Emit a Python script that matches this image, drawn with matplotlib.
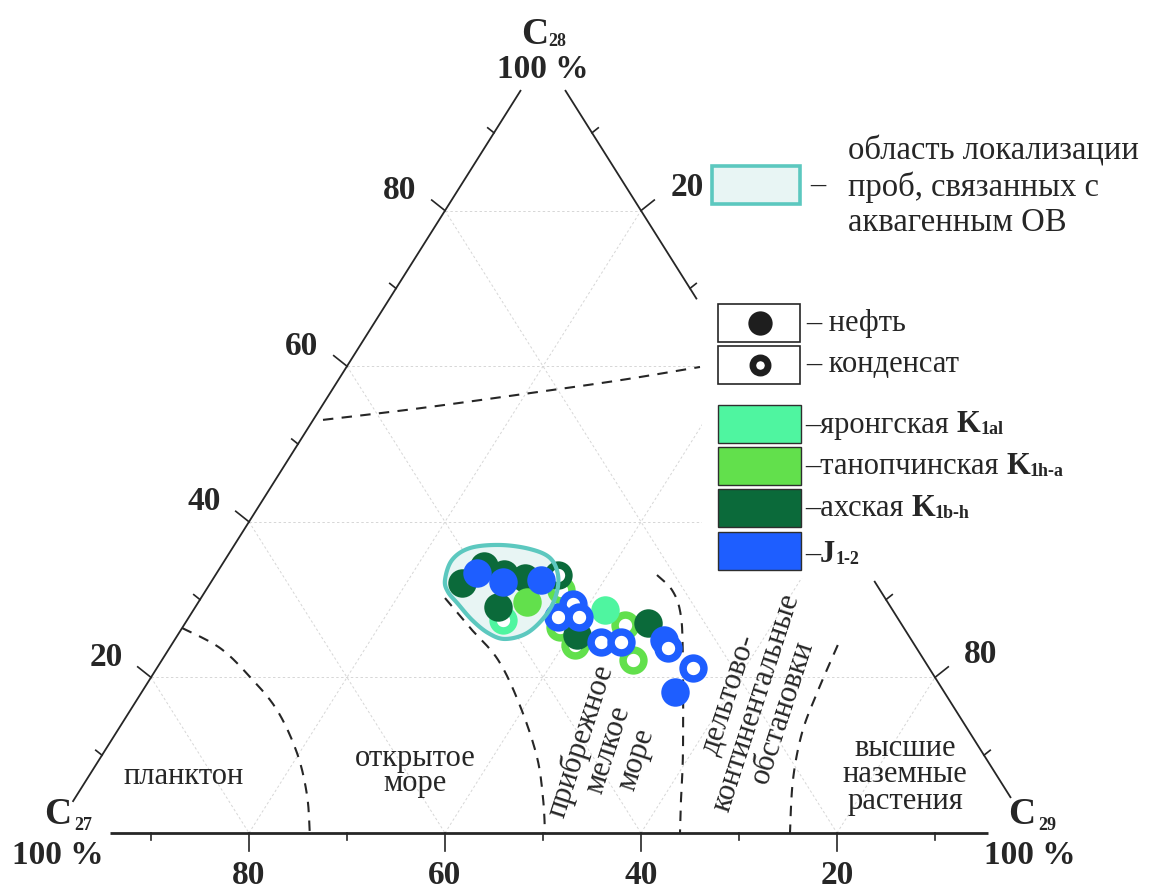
import numpy as np
import matplotlib
matplotlib.use('Agg')
import matplotlib.pyplot as plt
import matplotlib.transforms as mtransforms
from matplotlib.patches import Rectangle, Polygon
from matplotlib.lines import Line2D

plt.rcParams['font.family'] = ['Liberation Serif', 'DejaVu Serif']

# ---------------- data (C27, C28, C29, %) ----------------
# яронгская K1al
yar_oil_C27 = [29.3]
yar_oil_C28 = [28.7]
yar_oil_C29 = [42.0]
yar_cond_C27 = [40.4]
yar_cond_C28 = [27.4]
yar_cond_C29 = [32.2]
# танопчинская K1h-a
tan_oil_C27 = [36.8]
tan_oil_C28 = [29.7]
tan_oil_C29 = [33.5]
tan_cond_C27 = [32.6, 35.0, 34.6, 28.3, 29.7]
tan_cond_C28 = [31.2, 26.5, 24.2, 26.7, 22.2]
tan_cond_C29 = [36.2, 38.5, 41.2, 45.0, 48.1]
# ахская K1b-h
akh_oil_C27 = [42.2, 38.9, 37.3, 35.4, 40.1, 25.8, 33.8]
akh_oil_C28 = [32.1, 34.3, 33.3, 32.8, 29.0, 27.0, 25.4]
akh_oil_C29 = [25.7, 26.8, 29.4, 31.8, 30.9, 47.2, 40.8]
akh_cond_C27 = [31.9]
akh_cond_C28 = [33.2]
akh_cond_C29 = [34.9]
# J1-2
jur_oil_C27 = [40.0, 37.9, 34.0, 25.3, 27.5]
jur_oil_C28 = [33.4, 32.3, 32.5, 24.8, 18.1]
jur_oil_C29 = [26.6, 29.8, 33.5, 49.9, 54.4]
jur_cond_C27 = [32.2, 34.6, 32.4, 31.8, 29.7, 25.3, 24.1]
jur_cond_C28 = [29.4, 27.8, 27.8, 24.6, 24.6, 23.8, 21.2]
jur_cond_C29 = [38.4, 37.6, 39.8, 43.6, 45.7, 50.9, 54.7]

# facies boundaries (C28, C29)
upper_C28 = [53.1, 54.6, 56.6, 58.2, 59.9]
upper_C29 = [1.0, 10.15, 20.7, 28.76, 36.07]
plank_C28 = [26.35, 23.78, 20.05, 15.81, 10.28, 4.88, 0.0]
plank_C29 = [0.0, 5.15, 10.08, 14.95, 19.76, 23.48, 26.2]
open_C28 = [30.2, 26.35, 22.24, 16.45, 9.77, 4.24, 0.0]
open_C29 = [24.9, 29.4, 34.3, 39.4, 44.5, 47.9, 50.2]
coast_C28 = [33.16, 31.23, 28.41, 23.52, 10.67, 4.24, 0.0]
coast_C29 = [45.05, 47.55, 49.8, 52.5, 58.95, 61.96, 63.98]
delta_C28 = [24.16, 18.0, 12.85, 6.81, 0.0]
delta_C29 = [68.0, 68.96, 70.0, 72.1, 75.2]
# aquagenic OM region outline (C28, C29)
aqua_C28 = [32.52, 35.09, 36.63, 37.02, 36.5, 35.35, 33.16, 30.59, 28.02,
            25.71, 24.94, 25.71, 27.38, 29.43, 30.98]
aqua_C29 = [23.74, 23.17, 24.24, 27.1, 30.42, 33.04, 34.95, 36.04, 36.3,
            35.52, 33.65, 31.54, 29.07, 26.62, 24.82]

major_ticks = [20, 40, 60, 80]
minor_ticks = [10, 30, 50, 70, 90]

col_yar = '#4FF5A0'
col_tan = '#62E04C'
col_akh = '#0B6A3A'
col_jur = '#1E5EFF'
col_teal = '#5CC8BF'
col_teal_fill = '#E8F5F4'
ink = '#262626'

# ---------------- figure ----------------
WPX, HPX = 1165, 893
X0, SX, Y0, SY = 53.0, 9.8, 833.0, 7.78
fig = plt.figure(figsize=(WPX / 100, HPX / 100), dpi=100)
ax = fig.add_axes([0, 0, 1, 1])
ax.set_xlim(-X0 / SX, (WPX - X0) / SX)
ax.set_ylim((Y0 - HPX) / SY, Y0 / SY)
ax.axis('off')
T = mtransforms.Affine2D().scale(1 / WPX, -1 / HPX).translate(0, 1) + fig.transFigure


def tern(c27, c28, c29):
    c27, c28, c29 = (np.asarray(v, float) for v in (c27, c28, c29))
    s = c27 + c28 + c29
    return 100 * (c29 + c28 / 2) / s, 100 * c28 / s


def tern2(c28, c29):
    c28 = np.asarray(c28, float)
    c29 = np.asarray(c29, float)
    return tern(100 - c28 - c29, c28, c29)


def catmull(xs, ys, n=24, closed=False):
    P = np.column_stack([xs, ys])
    N = len(P)
    out = []
    segs = N if closed else N - 1
    for i in range(segs):
        if closed:
            p0, p1, p2, p3 = P[(i - 1) % N], P[i], P[(i + 1) % N], P[(i + 2) % N]
        else:
            p0 = P[max(i - 1, 0)]
            p1, p2 = P[i], P[i + 1]
            p3 = P[min(i + 2, N - 1)]
        t = np.linspace(0, 1, n, endpoint=False)[:, None]
        pts = 0.5 * ((2 * p1) + (-p0 + p2) * t + (2 * p0 - 5 * p1 + 4 * p2 - p3) * t ** 2
                     + (-p0 + 3 * p1 - 3 * p2 + p3) * t ** 3)
        out.append(pts)
    if not closed:
        out.append(P[-1:])
    arr = np.vstack(out)
    return arr[:, 0], arr[:, 1]


# grid
for v in major_ticks:
    for a, b in [((100 - v, v, 0), (0, v, 100 - v)),
                 ((v, 100 - v, 0), (v, 0, 100 - v)),
                 ((100 - v, 0, v), (0, 100 - v, v))]:
        xs, ys = tern([a[0], b[0]], [a[1], b[1]], [a[2], b[2]])
        ax.plot(xs, ys, color='#d6d6d6', lw=0.7, ls=(0, (2.5, 2.5)), zorder=1)

# legend mask (white area hiding the right edge)
fig.add_artist(Rectangle((702, 298), 470, 280, transform=T, facecolor='white',
                         edgecolor='none', zorder=1.5))

# triangle edges
def edge(c27, c28, c29, lw=1.3):
    xs, ys = tern(c27, c28, c29)
    ax.plot(xs, ys, color=ink, lw=lw, zorder=2, solid_capstyle='butt')

edge([100 - 4.0, 100 - 95.5], [4.0, 95.5], [0, 0])
edge([0, 0], [95.5, 68.6], [4.5, 31.4])
edge([0, 0], [32.4, 4.5], [67.6, 95.5])
edge([94.2, 4.6], [0, 0], [5.8, 95.4], lw=2.0)

# ticks
for v in major_ticks + minor_ticks:
    L = 17 if v in major_ticks else 8
    x, y = tern(100 - v, v, 0)
    ax.plot([x, x - 0.78 * L / SX], [y, y + 0.62 * L / SY], color=ink, lw=1.2, zorder=2)
    x, y = tern(0, v, 100 - v)
    ax.plot([x, x + 0.78 * L / SX], [y, y + 0.62 * L / SY], color=ink, lw=1.2, zorder=2)
    x, y = tern(v, 0, 100 - v)
    Lb = 18 if v in major_ticks else 7
    ax.plot([x, x], [y, y - Lb / SY], color=ink, lw=1.2, zorder=2)

lab_kw = dict(fontsize=24, fontweight='bold', color=ink, ha='center', va='center')
for v in major_ticks:
    x, y = tern(v, 0, 100 - v)
    ax.text(x, y - 42 / SY, str(v), **lab_kw)
    x, y = tern(100 - v, v, 0)
    ax.text(x - 45 / SX, y + 20 / SY, str(v), **lab_kw)
for v in [20, 80]:
    x, y = tern(0, 100 - v, v)
    ax.text(x + 46 / SX, y + 23 / SY, str(v), **lab_kw)

# vertex labels
def vtx(xc, yc, sub, xs, ys):
    fig.text(xc, yc, 'C', transform=T, fontsize=27, fontweight='bold', color=ink,
             ha='center', va='center')
    fig.text(xs, ys, sub, transform=T, fontsize=13, fontweight='bold', color=ink,
             ha='center', va='center')

vtx(535, 35, '28', 557, 42)
fig.text(543, 70, '100 %', transform=T, **lab_kw)
vtx(58, 814, '27', 83, 825)
fig.text(58, 855, '100 %', transform=T, **lab_kw)
vtx(1022, 814, '29', 1047, 825)
fig.text(1030, 855, '100 %', transform=T, **lab_kw)

# facies boundaries
for c28s, c29s in [(upper_C28, upper_C29), (plank_C28, plank_C29), (open_C28, open_C29),
                   (coast_C28, coast_C29), (delta_C28, delta_C29)]:
    xs, ys = tern2(c28s, c29s)
    sx, sy = catmull(xs, ys)
    ax.plot(sx, sy, color=ink, lw=1.5, ls=(0, (5, 4)), zorder=2)

# aquagenic region
xs, ys = tern2(aqua_C28, aqua_C29)
sx, sy = catmull(xs, ys, closed=True)
ax.add_patch(Polygon(np.column_stack([sx, sy]), closed=True, facecolor=col_teal_fill,
                     edgecolor='none', zorder=2.5))
ax.add_patch(Polygon(np.column_stack([sx, sy]), closed=True, facecolor='none',
                     edgecolor=col_teal, lw=3.0, zorder=6))

# region labels
reg_kw = dict(fontsize=22, color=ink, ha='center', va='center', multialignment='center')
fig.text(184, 777, 'планктон', transform=T, **reg_kw)
fig.text(415, 771, 'открытое\nморе', transform=T, linespacing=0.85, **reg_kw)
fig.text(608, 750, 'прибрежное\nмелкое\nморе', transform=T, rotation=72,
         linespacing=1.0, **reg_kw)
fig.text(756, 703, 'дельтово-\nконтинентальные\nобстановки', transform=T, rotation=72,
         linespacing=0.95, **reg_kw)
fig.text(905, 775, 'высшие\nназемные\nрастения', transform=T, linespacing=0.88, **reg_kw)

# data points
FILL_MS = 20.5
RING_MS, RING_MEW = 15.0, 5.4

def rings(c27, c28, c29, col, z):
    x, y = tern(c27, c28, c29)
    ax.plot(x, y, 'o', ls='none', ms=RING_MS, mfc='white', mec=col, mew=RING_MEW, zorder=z)

def fills(c27, c28, c29, col, z):
    x, y = tern(c27, c28, c29)
    ax.plot(x, y, 'o', ls='none', ms=FILL_MS, mfc=col, mec='none', mew=0, zorder=z)

rings(yar_cond_C27, yar_cond_C28, yar_cond_C29, col_yar, 3)
rings(tan_cond_C27, tan_cond_C28, tan_cond_C29, col_tan, 3)
rings(akh_cond_C27, akh_cond_C28, akh_cond_C29, col_akh, 3)
fills(akh_oil_C27, akh_oil_C28, akh_oil_C29, col_akh, 4)
fills(tan_oil_C27, tan_oil_C28, tan_oil_C29, col_tan, 4.1)
fills(yar_oil_C27, yar_oil_C28, yar_oil_C29, col_yar, 4.1)
fills(jur_oil_C27, jur_oil_C28, jur_oil_C29, col_jur, 4.2)
rings(jur_cond_C27, jur_cond_C28, jur_cond_C29, col_jur, 5)

# ---------------- legend ----------------
renderer = fig.canvas.get_renderer()

def run_text(x, y, parts):
    for s, size, weight, dy in parts:
        t = fig.text(x, y + dy, s, transform=T, fontsize=size, fontweight=weight,
                     color=ink, ha='left', va='center', zorder=10)
        x += t.get_window_extent(renderer).width

fig.add_artist(Rectangle((712, 166), 88, 38, transform=T, facecolor=col_teal_fill,
                         edgecolor=col_teal, lw=2.6, zorder=9))
fig.text(818, 185, '–', transform=T, fontsize=22, color=ink, ha='center', va='center')
fig.text(848, 187, 'область локализации\nпроб, связанных с\nаквагенным ОВ', transform=T,
         fontsize=23.5, color=ink, ha='left', va='center', linespacing=1.2)

for (y0, lab, filled) in [(304, '– нефть', True), (346, '– конденсат', False)]:
    fig.add_artist(Rectangle((718, y0), 82, 38, transform=T, facecolor='white',
                             edgecolor=ink, lw=1.2, zorder=9))
    if filled:
        fig.add_artist(Line2D([760], [y0 + 19], transform=T, marker='o', ms=17.5,
                              mfc='#1e1e1e', mec='none', ls='none', zorder=10))
    else:
        fig.add_artist(Line2D([760], [y0 + 19], transform=T, marker='o', ms=11.0,
                              mfc='white', mec='#1e1e1e', mew=4.8, ls='none', zorder=10))
    run_text(806, y0 + 19, [(lab, 22, 'normal', 0)])

for (y0, col, parts) in [
        (405, col_yar, [('–яронгская ', 22, 'normal', 0), ('K', 22, 'bold', 0), ('1al', 13, 'bold', 5)]),
        (447, col_tan, [('–танопчинская ', 22, 'normal', 0), ('K', 22, 'bold', 0), ('1h-a', 13, 'bold', 5)]),
        (489, col_akh, [('–ахская ', 22, 'normal', 0), ('K', 22, 'bold', 0), ('1b-h', 13, 'bold', 5)]),
        (532, col_jur, [('–', 22, 'normal', 2), ('J', 22, 'bold', 2), ('1-2', 13, 'bold', 7)])]:
    fig.add_artist(Rectangle((718, y0), 83, 38, transform=T, facecolor=col,
                             edgecolor='#2e2e2e', lw=1.0, zorder=9))
    run_text(805, y0 + 20, parts)

fig.savefig('out.png', dpi=100, facecolor='white')
